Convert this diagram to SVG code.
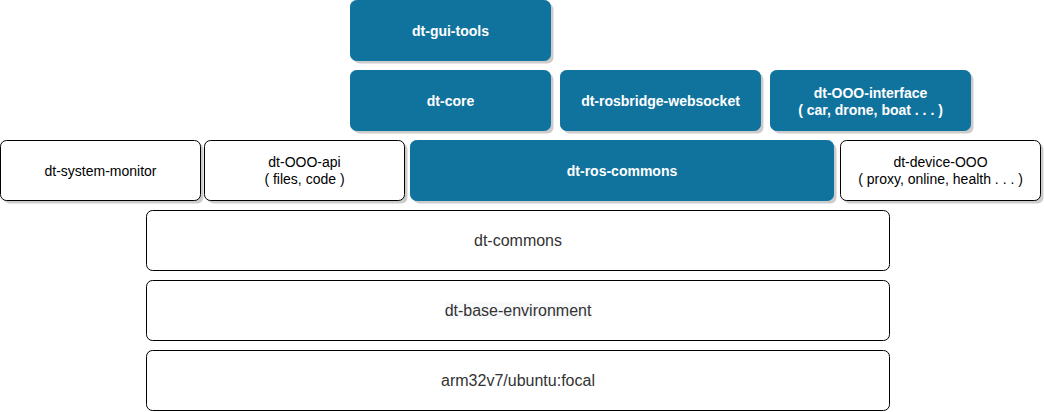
<svg xmlns="http://www.w3.org/2000/svg" width="1044" height="412" viewBox="0 0 1044 412">
<style>
.blue{fill:#10739E;stroke:#10739E;stroke-width:1}
.white{fill:#ffffff;stroke:#000000;stroke-width:1}
.shadow{fill:#000000;opacity:0.2}
.tb{font-family:"Liberation Sans",Arial,sans-serif;font-size:14px;font-weight:bold;fill:#ffffff;text-anchor:middle}
.tw{font-family:"Liberation Sans",Arial,sans-serif;font-size:14px;fill:#000000;text-anchor:middle}
.tl{font-family:"Liberation Sans",Arial,sans-serif;font-size:16px;fill:#333333;text-anchor:middle}
</style>
<rect width="1044" height="412" fill="#ffffff"/>
<g id="dt-gui-tools">
<rect class="shadow" x="353.5" y="3.5" width="200" height="60" rx="6"/>
<rect class="blue" x="350.5" y="0.5" width="200" height="60" rx="6"/>
<text class="tb" x="450.5" y="35.5">dt-gui-tools</text>
</g>
<g id="dt-core">
<rect class="shadow" x="353.5" y="73.5" width="200" height="60" rx="6"/>
<rect class="blue" x="350.5" y="70.5" width="200" height="60" rx="6"/>
<text class="tb" x="450.5" y="105.5">dt-core</text>
</g>
<g id="dt-rosbridge-websocket">
<rect class="shadow" x="563.5" y="73.5" width="200" height="60" rx="6"/>
<rect class="blue" x="560.5" y="70.5" width="200" height="60" rx="6"/>
<text class="tb" x="660.5" y="105.5">dt-rosbridge-websocket</text>
</g>
<g id="dt-OOO-interface">
<rect class="shadow" x="773.5" y="73.5" width="200" height="60" rx="6"/>
<rect class="blue" x="770.5" y="70.5" width="200" height="60" rx="6"/>
<text class="tb" x="870.5" y="97.5">dt-OOO-interface</text>
<text class="tb" x="870.5" y="114.5">( car, drone, boat . . . )</text>
</g>
<g id="dt-system-monitor">
<rect class="shadow" x="3.5" y="143.5" width="200" height="60" rx="6"/>
<rect class="white" x="0.5" y="140.5" width="200" height="60" rx="6"/>
<text class="tw" x="100.5" y="175.5">dt-system-monitor</text>
</g>
<g id="dt-OOO-api">
<rect class="shadow" x="207.5" y="143.5" width="200" height="60" rx="6"/>
<rect class="white" x="204.5" y="140.5" width="200" height="60" rx="6"/>
<text class="tw" x="304.5" y="167">dt-OOO-api</text>
<text class="tw" x="304.5" y="184">( files, code )</text>
</g>
<g id="dt-ros-commons">
<rect class="shadow" x="413.5" y="143.5" width="423" height="60" rx="6"/>
<rect class="blue" x="410.5" y="140.5" width="423" height="60" rx="6"/>
<text class="tb" x="622" y="175.5">dt-ros-commons</text>
</g>
<g id="dt-device-OOO">
<rect class="shadow" x="843.5" y="143.5" width="200" height="60" rx="6"/>
<rect class="white" x="840.5" y="140.5" width="200" height="60" rx="6"/>
<text class="tw" x="940.5" y="167">dt-device-OOO</text>
<text class="tw" x="940.5" y="184">( proxy, online, health . . . )</text>
</g>
<g id="dt-commons">
<rect class="white" x="146.5" y="210.5" width="743" height="60" rx="6"/>
<text class="tl" x="518" y="246">dt-commons</text>
</g>
<g id="dt-base-environment">
<rect class="white" x="146.5" y="280.5" width="743" height="60" rx="6"/>
<rect x="446" y="302" width="146" height="17" fill="#f8f9fa"/>
<text class="tl" x="518" y="316">dt-base-environment</text>
</g>
<g id="arm32v7-ubuntu-focal">
<rect class="white" x="146.5" y="350.5" width="743" height="60" rx="6"/>
<text class="tl" x="518" y="386">arm32v7/ubuntu:focal</text>
</g>
<g id="connectors"></g>
</svg>
